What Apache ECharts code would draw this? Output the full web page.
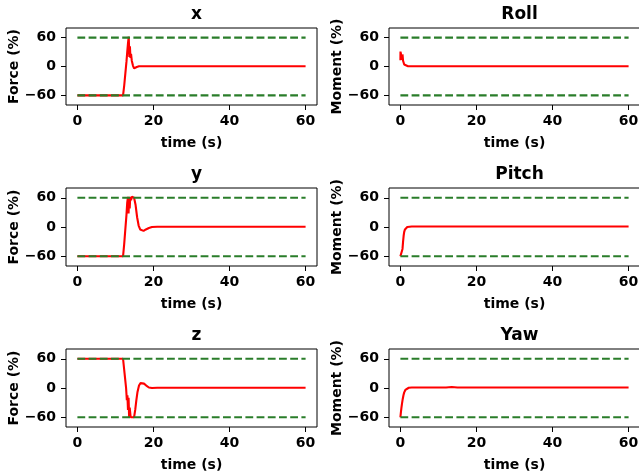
<!DOCTYPE html>
<html>
<head>
<meta charset="utf-8">
<script src="https://cdn.jsdelivr.net/npm/echarts@6/dist/echarts.min.js"></script>
<style>
html,body{margin:0;padding:0;background:#fff;}
#chart{width:639px;height:476px;}
</style>
</head>
<body>
<div id="chart"></div>
<script>
// ---------------- data ----------------
const panelTitles = ['x', 'Roll', 'y', 'Pitch', 'z', 'Yaw'];
const panelYLabels = ['Force (%)', 'Moment (%)', 'Force (%)', 'Moment (%)', 'Force (%)', 'Moment (%)'];
const xAxisLabel = 'time (s)';
const xTickValues = [0, 20, 40, 60];
const yTickValues = [-60, 0, 60];
const limitTime = [0, 60];
const limitLevels = [60, -60];

const timeX  = [0, 12, 12.3, 12.6, 12.9, 13.1, 13.3, 13.5, 13.65, 13.8, 13.95, 14.1, 14.3, 14.6, 14.9, 15.2, 15.6, 16.2, 17, 20, 30, 60];
const forceX = [-60, -60, -40, -15, 10, 30, 48, 62, 20, 42, 18, 26, 12, 2, -4, -4, -1, 0.5, 0.5, 0.5, 0.5, 0.5];

const timeY  = [0, 12, 12.3, 12.6, 12.9, 13.1, 13.3, 13.45, 13.6, 13.75, 13.9, 14.1, 14.3, 14.6, 14.9, 15.3, 15.7, 16.1, 16.5, 16.9, 17.4, 18.0, 18.8, 19.6, 21, 60];
const forceY = [-60, -60, -35, -5, 25, 50, 62, 28, 60, 38, 62, 55, 62, 62, 60, 45, 20, 3, -5, -9, -8, -5, -2, 0, 0.5, 0.5];

const timeZ  = [0, 12, 12.4, 12.8, 13.0, 13.15, 13.3, 13.45, 13.6, 13.75, 14.0, 14.4, 14.9, 15.2, 15.5, 15.8, 16.2, 16.6, 17.0, 17.5, 18.1, 18.8, 19.6, 21, 60];
const forceZ = [60, 60, 30, 0, -25, -15, -45, -20, -60, -40, -60, -60, -60, -45, -25, -8, 5, 10, 11, 9, 5, 1, 0, 0.5, 0.5];

const timeRoll   = [0, 0.02, 0.4, 0.45, 0.55, 0.7, 1.0, 1.4, 2.0, 14.5, 15, 15.5, 60];
const momentRoll = [13, 31, 30, 14, 25, 12, 4, 1, 0.5, 0.5, 1.5, 0.5, 0.5];

const timePitch   = [0, 0.4, 0.55, 0.7, 0.85, 1.0, 1.2, 1.45, 1.8, 2.3, 3, 60];
const momentPitch = [-60, -60, -45, -30, -18, -10, -5, -2, 0, 1, 1, 1];

const timeYaw   = [0, 0.1, 0.25, 0.4, 0.6, 0.8, 1.0, 1.3, 1.7, 2.2, 3, 12, 13.5, 15, 60];
const momentYaw = [-60, -52, -42, -33, -23, -15, -9, -4, -1, 0.5, 1, 1, 2, 1, 1];

const panelTimes  = [timeX, timeRoll, timeY, timePitch, timeZ, timeYaw];
const panelValues = [forceX, momentRoll, forceY, momentPitch, forceZ, momentYaw];

// ---------------- layout / style ----------------
const FONT = 'DejaVu Sans';
const colLefts = [66, 389];
const gridWidth = 251;
const rowTops = [28, 188, 349];
const rowHeights = [77, 78, 78];

const fmt = v => (v < 0 ? '\u2212' + Math.abs(v) : String(v));

const grids = [], xAxes = [], yAxes = [], series = [], titles = [];
for (let i = 0; i < 6; i++) {
  const col = i % 2, row = Math.floor(i / 2);
  grids.push({
    left: colLefts[col], top: rowTops[row], width: gridWidth, height: rowHeights[row],
    outerBoundsMode: 'none', containLabel: false,
    show: true, borderColor: '#000', borderWidth: 1, backgroundColor: 'transparent'
  });
  titles.push({
    text: panelTitles[i],
    left: colLefts[col] + gridWidth / 2,
    textAlign: 'center',
    top: rowTops[row] - 27,
    textStyle: { fontFamily: FONT, fontWeight: 'bold', fontSize: 17, color: '#000' }
  });
  xAxes.push({
    gridIndex: i, type: 'value', min: -3, max: 63, position: 'bottom',
    axisLine: { show: false, onZero: false },
    splitLine: { show: false },
    axisTick: { show: true, inside: false, length: 5, lineStyle: { color: '#000', width: 1 }, customValues: xTickValues },
    axisLabel: { show: true, margin: 9, customValues: xTickValues, formatter: fmt,
      fontFamily: FONT, fontWeight: 'bold', fontSize: 14, color: '#000' },
    name: xAxisLabel, nameLocation: 'middle', nameGap: 31,
    nameTextStyle: { fontFamily: FONT, fontWeight: 'bold', fontSize: 14, color: '#000' }
  });
  yAxes.push({
    gridIndex: i, type: 'value', min: -80, max: 80, position: 'left',
    axisLine: { show: false, onZero: false },
    splitLine: { show: false },
    axisTick: { show: true, inside: false, length: 5, lineStyle: { color: '#000', width: 1 }, customValues: yTickValues },
    axisLabel: { show: true, margin: 10, customValues: yTickValues, formatter: fmt,
      fontFamily: FONT, fontWeight: 'bold', fontSize: 14, color: '#000' },
    name: panelYLabels[i], nameLocation: 'middle', nameGap: 45,
    nameTextStyle: { fontFamily: FONT, fontWeight: 'bold', fontSize: 14, color: '#000' }
  });
  const t = panelTimes[i], v = panelValues[i];
  series.push({
    type: 'line', xAxisIndex: i, yAxisIndex: i,
    data: t.map((tt, k) => [tt, v[k]]),
    showSymbol: false, symbol: 'none', z: 2,
    lineStyle: { color: '#ff0000', width: 2.1 },
    emphasis: { disabled: true }
  });
  limitLevels.forEach(lv => {
    series.push({
      type: 'line', xAxisIndex: i, yAxisIndex: i,
      data: limitTime.map(tt => [tt, lv]),
      showSymbol: false, symbol: 'none', z: 3,
      lineStyle: { color: '#2a7d2a', width: 2.2, type: [7.8, 3.4] },
      emphasis: { disabled: true }
    });
  });
}

const chart = echarts.init(document.getElementById('chart'), null, { renderer: 'canvas' });
chart.setOption({
  animation: false,
  backgroundColor: '#fff',
  title: titles,
  grid: grids,
  xAxis: xAxes,
  yAxis: yAxes,
  series: series
});
</script>
</body>
</html>
